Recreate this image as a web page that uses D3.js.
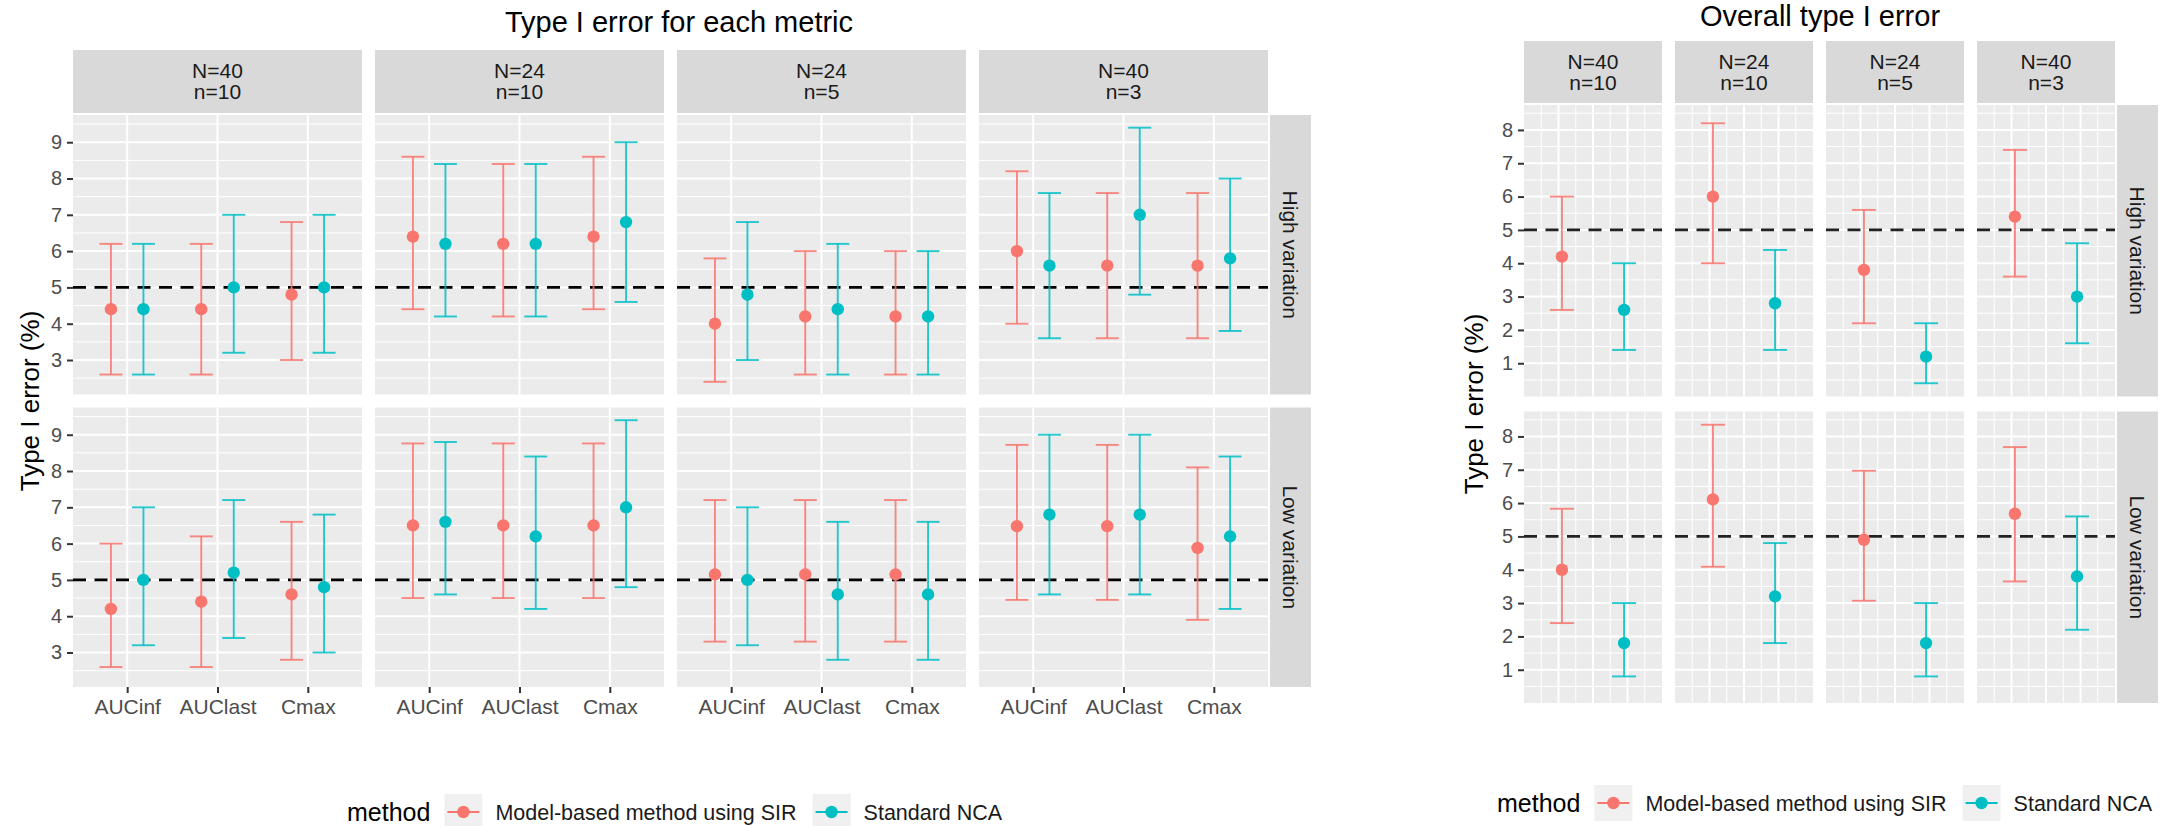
<!DOCTYPE html>
<html>
<head>
<meta charset="utf-8">
<script src="https://cdn.jsdelivr.net/npm/d3@7"></script>
<style>
  body { margin: 0; background: #fff; }
  svg text { font-family: "Liberation Sans", Arial, sans-serif; }
</style>
</head>
<body>
<svg id="chart" width="2172" height="826"></svg>
<script>
const methods = ["Model-based method using SIR", "Standard NCA"];
const metrics = ["AUCinf", "AUClast", "Cmax"];
const designN = [40, 24, 24, 40];
const designSmall = [10, 10, 5, 3];
const variations = ["High variation", "Low variation"];
const colors = ["#F8766D", "#00BFC4"];
const nominal = 5;

// Type I error per metric, rows = design, cols = AUCinf, AUClast, Cmax
// each entry [estimate, lower, upper]
const metricHighSIR = [
    [[4.4, 2.6, 6.2], [4.4, 2.6, 6.2], [4.8, 3.0, 6.8]],
    [[6.4, 4.4, 8.6], [6.2, 4.2, 8.4], [6.4, 4.4, 8.6]],
    [[4.0, 2.4, 5.8], [4.2, 2.6, 6.0], [4.2, 2.6, 6.0]],
    [[6.0, 4.0, 8.2], [5.6, 3.6, 7.6], [5.6, 3.6, 7.6]]
];
const metricHighNCA = [
    [[4.4, 2.6, 6.2], [5.0, 3.2, 7.0], [5.0, 3.2, 7.0]],
    [[6.2, 4.2, 8.4], [6.2, 4.2, 8.4], [6.8, 4.6, 9.0]],
    [[4.8, 3.0, 6.8], [4.4, 2.6, 6.2], [4.2, 2.6, 6.0]],
    [[5.6, 3.6, 7.6], [7.0, 4.8, 9.4], [5.8, 3.8, 8.0]]
];
const metricLowSIR = [
    [[4.2, 2.6, 6.0], [4.4, 2.6, 6.2], [4.6, 2.8, 6.6]],
    [[6.5, 4.5, 8.76], [6.5, 4.5, 8.76], [6.5, 4.5, 8.76]],
    [[5.15, 3.3, 7.2], [5.15, 3.3, 7.2], [5.15, 3.3, 7.2]],
    [[6.48, 4.45, 8.72], [6.48, 4.45, 8.72], [5.88, 3.9, 8.1]]
];
const metricLowNCA = [
    [[5.0, 3.2, 7.0], [5.2, 3.4, 7.2], [4.8, 3.0, 6.8]],
    [[6.6, 4.6, 8.8], [6.2, 4.2, 8.4], [7.0, 4.8, 9.4]],
    [[5.0, 3.2, 7.0], [4.6, 2.8, 6.6], [4.6, 2.8, 6.6]],
    [[6.8, 4.6, 9.0], [6.8, 4.6, 9.0], [6.2, 4.2, 8.4]]
];

// Overall type I error, one entry per design
const overallHighSIR = [[4.2, 2.6, 6.0], [6.0, 4.0, 8.2], [3.8, 2.2, 5.6], [5.4, 3.6, 7.4]];
const overallHighNCA = [[2.6, 1.4, 4.0], [2.8, 1.4, 4.4], [1.2, 0.4, 2.2], [3.0, 1.6, 4.6]];
const overallLowSIR = [[4.0, 2.4, 5.83], [6.11, 4.09, 8.35], [4.9, 3.07, 6.97], [5.68, 3.65, 7.68]];
const overallLowNCA = [[1.8, 0.8, 3.0], [3.2, 1.8, 4.8], [1.8, 0.8, 3.0], [3.8, 2.2, 5.6]];

const designs = designN.map((N, i) => `N=${N}|n=${designSmall[i]}`);

// Flatten into records.
let metricData = [];
[[metricHighSIR, metricHighNCA], [metricLowSIR, metricLowNCA]].forEach((pair, vi) => {
    pair.forEach((tbl, mi) => {
        tbl.forEach((row, di) => {
            row.forEach((v, ki) => {
                metricData.push({variation: variations[vi], method: methods[mi], design: designs[di],
                    metric: metrics[ki], est: v[0], lo: v[1], hi: v[2]});
            });
        });
    });
});
let overallData = [];
[[overallHighSIR, overallHighNCA], [overallLowSIR, overallLowNCA]].forEach((pair, vi) => {
    pair.forEach((tbl, mi) => {
        tbl.forEach((v, di) => {
            overallData.push({variation: variations[vi], method: methods[mi], design: designs[di],
                est: v[0], lo: v[1], hi: v[2]});
        });
    });
});

const svg = d3.select("#chart");
svg.append("rect").attr("width", 2172).attr("height", 826).attr("fill", "#fff");
const color = d3.scaleOrdinal(methods, colors);

function bandWithGap(domain, range, gap) {
    let step = (range[1] - range[0] + gap) / domain.length;
    return d3.scaleBand().domain(domain).range(range).paddingInner(gap / step).paddingOuter(0);
}

function facetPlot(cfg) {
    const g = svg.append("g");
    const col = bandWithGap(designs, cfg.xRange, cfg.colGap),
        row = bandWithGap(variations, cfg.yRange, cfg.rowGap),
        bw = col.bandwidth(),
        bh = row.bandwidth();

    let lo = d3.min(cfg.data, d => d.lo),
        hi = d3.max(cfg.data, d => d.hi),
        pad = (hi - lo) * 0.05;
    const y = d3.scaleLinear().domain([lo - pad, hi + pad]).range([bh, 0]);
    const majors = y.ticks(8),
        minors = d3.range(majors[0] - 0.5, y.domain()[1], 1).filter(v => v >= y.domain()[0]);

    const inner = cfg.inner(bw);

    variations.forEach(v => {
        designs.forEach(d => {
            let p = g.append("g").attr("transform", `translate(${col(d)},${row(v)})`);
            p.append("rect").attr("width", bw).attr("height", bh).attr("fill", "#EBEBEB");
            p.selectAll(".hmin").data(minors).enter().append("line")
                .attr("x1", 0).attr("x2", bw).attr("y1", y).attr("y2", y)
                .attr("stroke", "#fff").attr("stroke-width", 1);
            p.selectAll(".vmin").data(inner.minorX).enter().append("line")
                .attr("x1", d => d).attr("x2", d => d).attr("y1", 0).attr("y2", bh)
                .attr("stroke", "#fff").attr("stroke-width", 1);
            p.selectAll(".hmaj").data(majors).enter().append("line")
                .attr("x1", 0).attr("x2", bw).attr("y1", y).attr("y2", y)
                .attr("stroke", "#fff").attr("stroke-width", 2);
            p.selectAll(".vmaj").data(inner.majorX).enter().append("line")
                .attr("x1", d => d).attr("x2", d => d).attr("y1", 0).attr("y2", bh)
                .attr("stroke", "#fff").attr("stroke-width", 2);
            p.append("line")
                .attr("x1", 0).attr("x2", bw).attr("y1", y(nominal)).attr("y2", y(nominal))
                .attr("stroke", cfg.refColor).attr("stroke-width", 2.6)
                .attr("stroke-dasharray", "13,8.5");

            let recs = cfg.data.filter(r => r.variation === v && r.design === d);
            let bars = p.selectAll(".bar").data(recs).enter().append("g")
                .attr("stroke", r => color(r.method)).attr("stroke-width", 1.9)
                .attr("stroke-opacity", 0.85);
            bars.append("line")
                .attr("x1", r => inner.x(r)).attr("x2", r => inner.x(r))
                .attr("y1", r => y(r.lo)).attr("y2", r => y(r.hi));
            bars.append("line")
                .attr("x1", r => inner.x(r) - cfg.cap).attr("x2", r => inner.x(r) + cfg.cap)
                .attr("y1", r => y(r.lo)).attr("y2", r => y(r.lo));
            bars.append("line")
                .attr("x1", r => inner.x(r) - cfg.cap).attr("x2", r => inner.x(r) + cfg.cap)
                .attr("y1", r => y(r.hi)).attr("y2", r => y(r.hi));
            p.selectAll(".pt").data(recs).enter().append("circle")
                .attr("cx", r => inner.x(r)).attr("cy", r => y(r.est)).attr("r", 6.2)
                .attr("fill", r => color(r.method));
        });

        // y axis
        let ax = g.append("g")
            .attr("transform", `translate(${cfg.xRange[0]},${row(v)})`)
            .call(d3.axisLeft(y).tickValues(majors).tickSize(6).tickPadding(5).tickFormat(d3.format("d")));
        ax.select(".domain").remove();
        ax.selectAll(".tick line").attr("stroke", "#333").attr("stroke-width", 2);
        ax.selectAll(".tick text").attr("fill", "#4D4D4D").style("font-size", "20px");

        // row strip
        let sr = g.append("g").attr("transform", `translate(${cfg.stripRight[0]},${row(v)})`);
        let sw = cfg.stripRight[1] - cfg.stripRight[0];
        sr.append("rect").attr("width", sw).attr("height", bh).attr("fill", "#D9D9D9");
        sr.append("text")
            .attr("transform", `translate(${sw / 2},${bh / 2}) rotate(90)`)
            .attr("text-anchor", "middle").attr("dy", "0.35em")
            .attr("fill", "#1A1A1A").style("font-size", "21px")
            .text(v);
    });

    // column strips
    designs.forEach(d => {
        let s = g.append("g").attr("transform", `translate(${col(d)},${cfg.stripTop[0]})`);
        let sh = cfg.stripTop[1] - cfg.stripTop[0];
        s.append("rect").attr("width", bw).attr("height", sh).attr("fill", "#D9D9D9");
        let t = s.append("text").attr("text-anchor", "middle").attr("fill", "#1A1A1A")
            .style("font-size", "21px");
        d.split("|").forEach((line, i) => {
            t.append("tspan").attr("x", bw / 2).attr("y", sh / 2 + (i - 0.5) * 21).attr("dy", "0.35em").text(line);
        });
    });

    // x axis labels
    if (cfg.xAxis) {
        designs.forEach(d => {
            let ax = g.append("g")
                .attr("transform", `translate(${col(d)},${cfg.yRange[1]})`)
                .call(d3.axisBottom(inner.scale).tickSize(6).tickPadding(6));
            ax.select(".domain").remove();
            ax.selectAll(".tick line").attr("stroke", "#333").attr("stroke-width", 2);
            ax.selectAll(".tick text").attr("fill", "#4D4D4D").style("font-size", "21px");
        });
    }

    // titles
    g.append("text").attr("x", cfg.title[1]).attr("y", cfg.title[2]).attr("dy", "0.35em")
        .attr("text-anchor", "middle").style("font-size", "29px").attr("fill", "#000")
        .text(cfg.title[0]);
    g.append("text")
        .attr("transform", `translate(${cfg.yTitleX},${(cfg.yRange[0] + cfg.yRange[1]) / 2}) rotate(-90)`)
        .attr("text-anchor", "middle").attr("dy", "0.35em").style("font-size", "26px").attr("fill", "#000")
        .text("Type I error (%)");

    // legend
    let lg = g.append("g").attr("transform", `translate(${cfg.legend[0]},${cfg.legend[1]})`);
    let lt = lg.append("text").attr("dy", "0.35em").style("font-size", "25px").attr("fill", "#000").text("method");
    let lx = lt.node().getComputedTextLength() + 14;
    methods.forEach((m, i) => {
        let k = lg.append("g").attr("transform", `translate(${lx},0)`);
        k.append("rect").attr("x", 0).attr("y", -18).attr("width", 38).attr("height", 36).attr("fill", "#F0F0F0");
        k.append("line").attr("x1", 3).attr("x2", 35).attr("stroke", color(m)).attr("stroke-width", 1.9);
        k.append("circle").attr("cx", 19).attr("r", 6.2).attr("fill", color(m));
        let tx = lg.append("text").attr("x", lx + 38 + 13).attr("dy", "0.35em")
            .style("font-size", "21.5px").attr("fill", "#1A1A1A").text(m);
        lx += 38 + 13 + tx.node().getComputedTextLength() + 16;
    });
}

// Left chart: per metric
facetPlot({
    data: metricData,
    xRange: [73, 1268], colGap: 13,
    yRange: [115, 687], rowGap: 13,
    stripTop: [50, 113], stripRight: [1270, 1311],
    cap: 11.5, refColor: "#000", xAxis: true,
    title: ["Type I error for each metric", 679, 22],
    yTitleX: 30,
    legend: [347, 812],
    inner: bw => {
        let xs = d3.scalePoint().domain(metrics).range([0, bw]).padding(0.6),
            dodge = xs.step() * 0.18;
        return {
            scale: xs,
            x: r => xs(r.metric) + (r.method === methods[0] ? -dodge : dodge),
            majorX: metrics.map(m => xs(m)),
            minorX: []
        };
    }
});

// Right chart: overall
facetPlot({
    data: overallData,
    xRange: [1524, 2115], colGap: 13,
    yRange: [105, 703], rowGap: 15,
    stripTop: [41, 103], stripRight: [2117, 2158],
    cap: 12, refColor: "#222", xAxis: false,
    title: ["Overall type I error", 1820, 16],
    yTitleX: 1474,
    legend: [1497, 803],
    inner: bw => {
        let xs = d3.scalePoint().domain(methods).range([0, bw]).padding(0.61),
            grid = d3.scaleLinear().domain([0, 4]).range([0, bw]);
        return {
            scale: xs,
            x: r => xs(r.method),
            majorX: [1, 2, 3].map(grid),
            minorX: [0.5, 1.5, 2.5, 3.5].map(grid)
        };
    }
});
</script>
</body>
</html>
